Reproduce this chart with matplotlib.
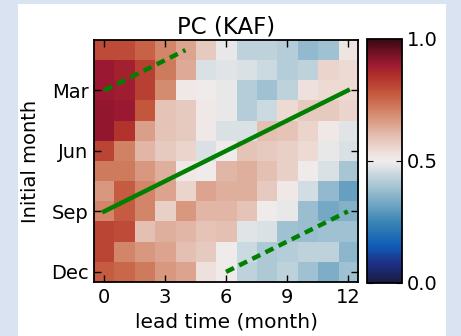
import numpy as np
import matplotlib
matplotlib.use("Agg")
import matplotlib.pyplot as plt
from matplotlib.colors import LinearSegmentedColormap
from matplotlib.patches import Rectangle

# lead time (months) along x, initial month along y (Jan at top)
leads = list(range(13))
months = ["Jan", "Feb", "Mar", "Apr", "May", "Jun",
          "Jul", "Aug", "Sep", "Oct", "Nov", "Dec"]
month_ticks = ["Mar", "Jun", "Sep", "Dec"]
lead_ticks = [0, 3, 6, 9, 12]

# pattern correlation, one row per initial month, lead 0..12
pc_jan = [0.80, 0.80, 0.76, 0.70, 0.65, 0.58, 0.49, 0.43, 0.43, 0.42, 0.37, 0.39, 0.52]
pc_feb = [0.90, 0.88, 0.82, 0.72, 0.64, 0.47, 0.48, 0.47, 0.45, 0.42, 0.43, 0.56, 0.55]
pc_mar = [0.90, 0.89, 0.82, 0.69, 0.51, 0.50, 0.49, 0.42, 0.39, 0.43, 0.53, 0.55, 0.55]
pc_apr = [0.91, 0.90, 0.78, 0.59, 0.58, 0.51, 0.49, 0.42, 0.45, 0.55, 0.58, 0.58, 0.56]
pc_may = [0.91, 0.84, 0.66, 0.59, 0.58, 0.51, 0.47, 0.47, 0.60, 0.59, 0.56, 0.51, 0.48]
pc_jun = [0.81, 0.71, 0.62, 0.58, 0.56, 0.47, 0.50, 0.59, 0.58, 0.57, 0.55, 0.49, 0.47]
pc_jul = [0.72, 0.72, 0.67, 0.63, 0.51, 0.50, 0.62, 0.63, 0.60, 0.57, 0.50, 0.47, 0.40]
pc_aug = [0.67, 0.77, 0.70, 0.65, 0.56, 0.65, 0.63, 0.63, 0.58, 0.51, 0.46, 0.37, 0.31]
pc_sep = [0.70, 0.77, 0.70, 0.57, 0.67, 0.62, 0.62, 0.59, 0.50, 0.49, 0.38, 0.33, 0.35]
pc_oct = [0.81, 0.80, 0.60, 0.63, 0.62, 0.59, 0.60, 0.48, 0.47, 0.39, 0.38, 0.39, 0.39]
pc_nov = [0.81, 0.70, 0.67, 0.65, 0.60, 0.58, 0.50, 0.45, 0.41, 0.42, 0.43, 0.43, 0.36]
pc_dec = [0.77, 0.75, 0.72, 0.67, 0.65, 0.53, 0.50, 0.43, 0.41, 0.43, 0.39, 0.34, 0.39]

# target-month guide lines (lead, initial-month index)
solid_lead, solid_month = [0, 12], [8, 2]
dash1_lead, dash1_month = [0, 4], [2, 0]
dash2_lead, dash2_month = [6, 12], [11, 8]

pc = np.array([pc_jan, pc_feb, pc_mar, pc_apr, pc_may, pc_jun,
               pc_jul, pc_aug, pc_sep, pc_oct, pc_nov, pc_dec])

# rough stand-in for cmocean "balance"
balance = LinearSegmentedColormap.from_list("balance", [
    (0.00, "#181c43"), (0.08, "#1f2f86"), (0.15, "#0f5bb5"), (0.25, "#3b85b5"),
    (0.35, "#85b2c9"), (0.45, "#cbdae0"), (0.50, "#f1ecec"), (0.55, "#ecdad3"),
    (0.62, "#e2b6a6"), (0.70, "#d3876a"), (0.78, "#c4573c"), (0.85, "#b0302b"),
    (0.90, "#9c1932"), (1.00, "#3c0912")])

fig = plt.figure(figsize=(4.61, 3.36), dpi=100, facecolor="#d9e3f1")
fig.patches.append(Rectangle((18 / 461, 0), 428 / 461, 332 / 336, transform=fig.transFigure,
                             facecolor="white", edgecolor="none", zorder=-10))
ax = fig.add_axes([94 / 461, 1 - 282 / 336, 264 / 461, 242 / 336])
cax = fig.add_axes([367 / 461, 1 - 283 / 336, 35 / 461, 244 / 336])

im = ax.imshow(pc, cmap=balance, vmin=0, vmax=1, aspect="auto", interpolation="nearest",
               extent=(-0.5, 12.5, 11.5, -0.5))
ax.plot(solid_lead, solid_month, color="green", lw=3.2)
ax.plot(dash1_lead, dash1_month, color="green", lw=3.2, dashes=(2, 1.3))
ax.plot(dash2_lead, dash2_month, color="green", lw=3.2, dashes=(2, 1.3))
ax.set_xlim(-0.5, 12.5); ax.set_ylim(11.5, -0.5)

ax.set_xticks(lead_ticks)
ax.set_yticks([months.index(m) for m in month_ticks]); ax.set_yticklabels(month_ticks)
ax.tick_params(direction="in", top=True, right=True, length=5, width=1, labelsize=14, pad=4)
ax.set_xlabel("lead time (month)", fontsize=14.5, labelpad=4)
ax.set_ylabel("Initial month", fontsize=14, labelpad=8)
ax.set_title("PC (KAF)", fontsize=16.5, pad=5)
for s in ax.spines.values():
    s.set_linewidth(1.3)

cb = fig.colorbar(im, cax=cax, ticks=[0, 0.5, 1])
cb.ax.set_yticklabels(["0.0", "0.5", "1.0"])
cb.ax.tick_params(direction="in", left=True, length=4, labelsize=14)
cb.outline.set_linewidth(1.3)

fig.savefig("out.png", dpi=100, facecolor=fig.get_facecolor())
